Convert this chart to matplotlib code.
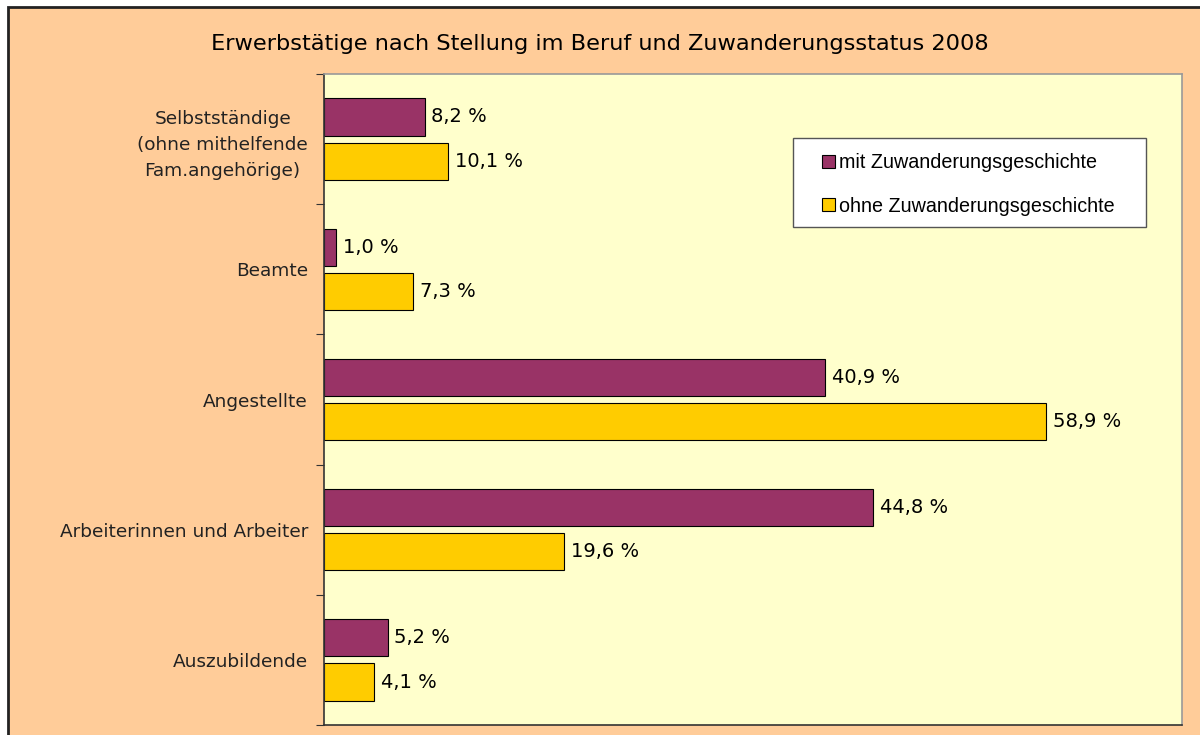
import matplotlib
matplotlib.use("Agg")
import matplotlib.pyplot as plt
from matplotlib.patches import Rectangle, Patch
import numpy as np

categories = [
    "Selbstständige\n(ohne mithelfende\nFam.angehörige)",
    "Beamte",
    "Angestellte",
    "Arbeiterinnen und Arbeiter",
    "Auszubildende",
]
mit_zuw = [8.2, 1.0, 40.9, 44.8, 5.2]
ohne_zuw = [10.1, 7.3, 58.9, 19.6, 4.1]
series_names = ["mit Zuwanderungsgeschichte", "ohne Zuwanderungsgeschichte"]
title = "Erwerbstätige nach Stellung im Beruf und Zuwanderungsstatus 2008"

purple = "#993366"
yellow = "#FFCC00"
peach = "#FFCC99"
plot_bg = "#FFFFCC"

fig = plt.figure(figsize=(12, 7.35), dpi=100)
fig.patch.set_facecolor("white")

# peach chart area with dark border at top/left
W, H = 1200, 735
bg = Rectangle((8 / W, -0.05), 1.1, 1 - 7 / H + 0.05, transform=fig.transFigure,
               facecolor=peach, edgecolor="#222222", linewidth=2, zorder=-10)
fig.patches.append(bg)

ax = fig.add_axes([324 / W, 1 - 725 / H, (1182 - 324) / W, (725 - 74) / H])
ax.set_facecolor(plot_bg)

n = len(categories)
pos = np.arange(n)
off = 0.17
h = 0.285
ax.barh(pos - off, mit_zuw, height=h, color=purple, edgecolor="black", linewidth=0.8,
        label=series_names[0])
ax.barh(pos + off, ohne_zuw, height=h, color=yellow, edgecolor="black", linewidth=0.8,
        label=series_names[1])

for y, v in zip(pos - off, mit_zuw):
    ax.text(v + 0.55, y, f"{v:.1f} %".replace(".", ","), va="center", ha="left",
            fontsize=14, color="black")
for y, v in zip(pos + off, ohne_zuw):
    ax.text(v + 0.55, y, f"{v:.1f} %".replace(".", ","), va="center", ha="left",
            fontsize=14, color="black")

ax.set_xlim(0, 70)
ax.set_ylim(n - 0.5, -0.5)
ax.set_xticks([])

ax.set_yticks(np.arange(n + 1) - 0.5)
ax.set_yticklabels([])
ax.tick_params(axis="y", which="major", length=6, color="#333333")
ax.set_yticks(pos, minor=True)
ax.set_yticklabels(categories, minor=True, fontsize=13.3, color="#222222")
ax.tick_params(axis="y", which="minor", length=0, pad=11.5)
for lbl in ax.get_yticklabels(minor=True):
    lbl.set_horizontalalignment("right")
    lbl.set_multialignment("center")
    lbl.set_linespacing(1.55)

ax.spines["left"].set_color("#333333")
ax.spines["bottom"].set_color("#333333")
ax.spines["top"].set_color("#999999")
ax.spines["right"].set_color("#999999")
for s in ax.spines.values():
    s.set_linewidth(1.2)

# legend: frame drawn separately, entries placed inside
ph = 725 - 74
pw = 1182 - 324
frame = Rectangle(((793 - 324) / pw, 1 - (227 - 74) / ph), (1146 - 793) / pw, (227 - 138) / ph,
                  transform=ax.transAxes, facecolor="white", edgecolor="#555555",
                  linewidth=1.0, zorder=4)
ax.add_patch(frame)
handles = [Patch(facecolor=purple, edgecolor="black", linewidth=0.8),
           Patch(facecolor=yellow, edgecolor="black", linewidth=0.8)]
leg = ax.legend(handles, series_names, loc="center left",
                bbox_to_anchor=((822 - 324) / pw, 1 - (184.5 - 74) / ph),
                frameon=False, prop={"family": "Liberation Sans", "size": 14.2},
                handlelength=0.65, handleheight=0.65, handletextpad=0.2,
                labelspacing=1.25, borderpad=0, borderaxespad=0)
leg.set_zorder(5)

fig.text(0.5, 1 - 44 / H, title, ha="center", va="center", fontsize=16.2, color="black")

fig.savefig("out.png", dpi=100, facecolor=fig.get_facecolor())
